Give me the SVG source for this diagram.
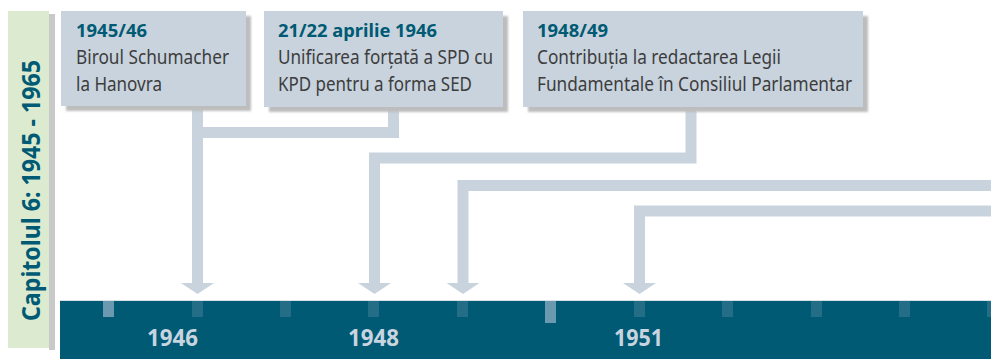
<svg xmlns="http://www.w3.org/2000/svg" width="991" height="359" viewBox="0 0 991 359">
  <style>
    .box { fill: #c8d3de; }
    .shadow { fill: #bdbdbd; filter: url(#blur); }
    .title { font-family: "Noto Sans", "Open Sans", sans-serif; font-weight: bold; font-size: 18px; fill: #005a73; }
    .body { font-family: "Noto Sans", "Open Sans", sans-serif; font-size: 19px; fill: #3d3d3d; }
    .year { font-family: "Noto Sans", "Open Sans", sans-serif; font-weight: bold; font-size: 24px; fill: #c8d4e0; text-anchor: middle; }
    .conn { fill: none; stroke: #c8d3de; stroke-width: 11; stroke-linejoin: miter; stroke-linecap: butt; marker-end: url(#head); }
    .tick { fill: #236d87; }
    .tick2 { fill: #6b9ab0; }
  </style>
  <defs>
    <filter id="blur" x="-10%" y="-10%" width="120%" height="120%">
      <feGaussianBlur stdDeviation="1.2"/>
    </filter>
    <marker id="head" markerUnits="userSpaceOnUse" viewBox="0 0 11 33" refX="0" refY="16.5" markerWidth="11" markerHeight="33" orient="auto">
      <path d="M0,0 L11,16.5 L0,33 Z" fill="#c8d3de"/>
    </marker>
  </defs>

  <!-- chapter strip -->
  <g id="chapter">
    <rect x="49" y="14" width="6" height="336" fill="#c9c9c9"/>
    <rect x="8" y="11" width="41" height="337" fill="#dcebd0"/>
    <text transform="translate(39.5,321) rotate(-90)" font-family="Noto Sans, Open Sans, sans-serif" font-weight="bold" font-size="25" fill="#005a73" textLength="261" lengthAdjust="spacingAndGlyphs">Capitolul 6: 1945 - 1965</text>
  </g>

  <!-- connectors -->
  <g id="connectors">
    <path class="conn" d="M197.5,106 V283"/>
    <path class="conn" style="marker-end:none" d="M393.5,107 V132.5 H197.5"/>
    <path class="conn" d="M691,107 V158 H374.5 V283"/>
    <path class="conn" d="M991,185.5 H463 V283"/>
    <path class="conn" d="M991,211 H639.5 V283"/>
  </g>

  <!-- boxes -->
  <g id="box1">
    <rect class="shadow" x="66" y="16" width="185" height="95"/>
    <rect class="box" x="61" y="11" width="185" height="95"/>
    <text class="title" x="76" y="37" textLength="71" lengthAdjust="spacingAndGlyphs">1945/46</text>
    <text class="body" x="76" y="64" textLength="153" lengthAdjust="spacingAndGlyphs">Biroul Schumacher</text>
    <text class="body" x="76" y="90.5" textLength="86" lengthAdjust="spacingAndGlyphs">la Hanovra</text>
  </g>
  <g id="box2">
    <rect class="shadow" x="269" y="16" width="239" height="96"/>
    <rect class="box" x="264" y="11" width="239" height="96"/>
    <text class="title" x="278" y="37" textLength="159" lengthAdjust="spacingAndGlyphs">21/22 aprilie 1946</text>
    <text class="body" x="278" y="64" textLength="215" lengthAdjust="spacingAndGlyphs">Unificarea forțată a SPD cu</text>
    <text class="body" x="278" y="90.5" textLength="194" lengthAdjust="spacingAndGlyphs">KPD pentru a forma SED</text>
  </g>
  <g id="box3">
    <rect class="shadow" x="528" y="16" width="340" height="96"/>
    <rect class="box" x="523" y="11" width="340" height="96"/>
    <text class="title" x="537" y="37" textLength="71" lengthAdjust="spacingAndGlyphs">1948/49</text>
    <text class="body" x="537" y="64" textLength="244" lengthAdjust="spacingAndGlyphs">Contribuția la redactarea Legii</text>
    <text class="body" x="537" y="90.5" textLength="315" lengthAdjust="spacingAndGlyphs">Fundamentale în Consiliul Parlamentar</text>
  </g>

  <!-- timeline -->
  <g id="timeline">
    <rect x="60" y="301" width="931" height="58" fill="#005a73"/>
    <rect x="60" y="300" width="931" height="1" fill="#c8d3de" opacity="0.7"/>
    <rect class="tick2" x="103" y="301" width="11" height="16"/>
    <rect class="tick" x="192" y="301" width="11" height="16"/>
    <rect class="tick" x="280" y="301" width="11" height="16"/>
    <rect class="tick" x="368" y="301" width="11" height="16"/>
    <rect class="tick" x="457" y="301" width="11" height="16"/>
    <rect class="tick2" x="545" y="301" width="11" height="22"/>
    <rect class="tick" x="634" y="301" width="11" height="16"/>
    <rect class="tick" x="722" y="301" width="11" height="16"/>
    <rect class="tick" x="811" y="301" width="11" height="16"/>
    <rect class="tick" x="899" y="301" width="11" height="16"/>
    <rect class="tick" x="987" y="301" width="11" height="16"/>
    <text class="year" x="172.5" y="346" textLength="51" lengthAdjust="spacingAndGlyphs">1946</text>
    <text class="year" x="373.5" y="346" textLength="51" lengthAdjust="spacingAndGlyphs">1948</text>
    <text class="year" x="638.5" y="346" textLength="49" lengthAdjust="spacingAndGlyphs">1951</text>
  </g>
</svg>
